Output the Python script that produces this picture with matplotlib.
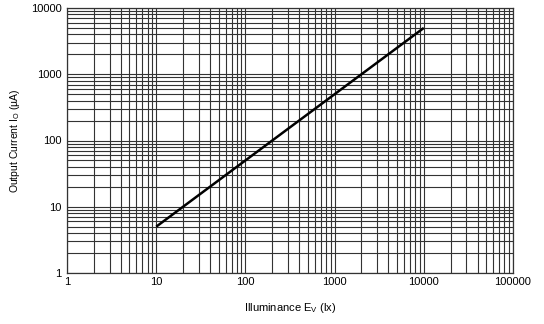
import matplotlib
matplotlib.use("Agg")
import matplotlib.pyplot as plt
from matplotlib.ticker import LogLocator, FixedLocator, FixedFormatter

plt.rcParams['font.family'] = ['Liberation Sans', 'DejaVu Sans']

illuminance = [10, 10000]
output_current = [5, 5000]
x_ticks = [1, 10, 100, 1000, 10000, 100000]
x_labels = ['1', '10', '100', '1000', '10000', '100000']
y_ticks = [1, 10, 100, 1000, 10000]
y_labels = ['1', '10', '100', '1000', '10000']

fig = plt.figure(figsize=(5.44, 3.24), dpi=100)
ax = fig.add_axes([67/544, 1 - 273/324, (513-67)/544, (273-8)/324])
ax.set_xscale('log')
ax.set_yscale('log')
ax.set_xlim(1, 100000)
ax.set_ylim(1, 10000)
ax.plot(illuminance, output_current, color='black', lw=1.8, solid_capstyle='butt', zorder=3)

ax.xaxis.set_major_locator(FixedLocator(x_ticks))
ax.xaxis.set_major_formatter(FixedFormatter(x_labels))
ax.yaxis.set_major_locator(FixedLocator(y_ticks))
ax.yaxis.set_major_formatter(FixedFormatter(y_labels))
ax.xaxis.set_minor_locator(LogLocator(base=10, subs=range(2, 10), numticks=20))
ax.yaxis.set_minor_locator(LogLocator(base=10, subs=range(2, 10), numticks=20))
ax.xaxis.set_minor_formatter(plt.NullFormatter())
ax.yaxis.set_minor_formatter(plt.NullFormatter())
ax.grid(True, which='both', color='#333333', lw=0.8)
ax.tick_params(which='both', length=0, labelsize=8, colors='black')
ax.tick_params(axis='x', pad=3)
ax.tick_params(axis='y', pad=4)
for s in ax.spines.values():
    s.set_color('#333333')
    s.set_linewidth(0.9)

ax.set_xlabel('Illuminance E$_\\mathregular{V}$ (lx)', fontsize=8, labelpad=10)
ax.set_ylabel('Output Current I$_\\mathregular{O}$ (µA)', fontsize=7.5, labelpad=6)

fig.savefig('out.png', dpi=100)
